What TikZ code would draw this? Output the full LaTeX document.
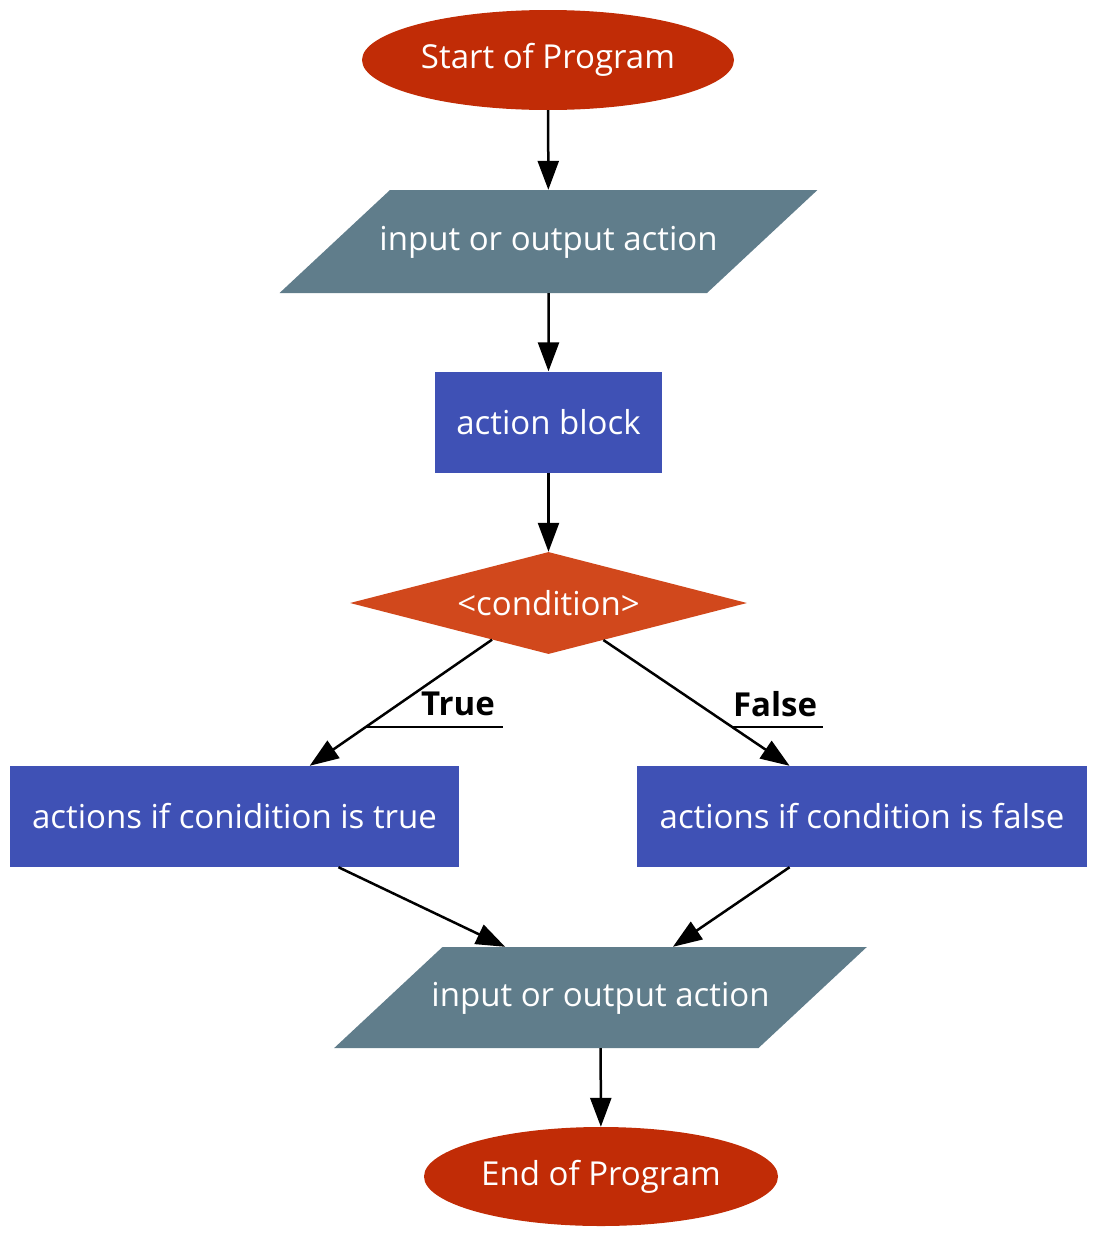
\documentclass[tikz,border=0pt]{standalone}
\usepackage{fontspec}
\setmainfont{Open Sans}
\usetikzlibrary{shapes.geometric,arrows.meta}
\definecolor{termc}{HTML}{C12C06}
\definecolor{ioc}{HTML}{607D8B}
\definecolor{actc}{HTML}{3F51B5}
\definecolor{decc}{HTML}{D1481C}
\begin{document}
\begin{tikzpicture}[x=1pt,y=-1pt,
  txt/.style={text=white,font=\fontsize{33}{38}\selectfont,inner sep=0pt},
  term/.style={txt,ellipse,fill=termc,minimum width=372pt,minimum height=100pt},
  iobox/.style={txt,trapezium,trapezium left angle=43,trapezium right angle=137,fill=ioc,text height=25pt,text depth=8pt,inner xsep=0pt,inner ysep=35pt},
  actbox/.style={txt,rectangle,fill=actc,minimum height=101pt},
  decbox/.style={txt,diamond,fill=decc,minimum width=397pt,minimum height=102pt,shape aspect=3.9},
  arr/.style={line width=2.5pt,-{Triangle[length=29pt,width=21pt]}},
  lab/.style={font=\bfseries\fontsize{33}{38}\selectfont,inner sep=0pt}]
\useasboundingbox (0,0) rectangle (1111,1253);
\node[term] (start) at (548,60) {Start of Program};
\node[iobox] (io1) at (548.5,241.5) {\makebox[317pt]{input or output action}};
\node[actbox,minimum width=227pt] (act) at (548.5,422) {action block};
\node[decbox] (cond) at (548.5,603) {<condition>};
\node[actbox,minimum width=449pt] (trueb) at (234.5,816.5) {actions if conidition is true};
\node[actbox,minimum width=450pt] (falseb) at (862,816.5) {actions if condition is false};
\node[iobox,inner ysep=34pt] (io2) at (600.5,997.5) {\makebox[316pt]{input or output action}};
\node[term,minimum width=354pt,minimum height=99pt] (end) at (601,1176.5) {End of Program};
\draw[arr] (start) -- (io1);
\draw[arr] (io1) -- (act);
\draw[arr] (act) -- (cond);
\draw[arr] (cond.213.4) -- (trueb.34.3);
\draw[arr] (cond.326.1) -- (falseb.145.5);
\draw[arr] (trueb.-26.2) -- (io2.152.9);
\draw[arr] (falseb.215.0) -- (io2.35.2);
\draw[arr] (io2) -- (end);
\node[lab] (truelab) at (458,704) {True};
\node[lab] (falselab) at (775,704) {False};
\coordinate (tu) at (365,727);
\coordinate (fu) at (732,727);
\draw[line width=2.5pt] (tu) -- (tu -| 503,0);
\draw[line width=2.5pt] (fu) -- (fu -| 823,0);
\end{tikzpicture}
\end{document}
